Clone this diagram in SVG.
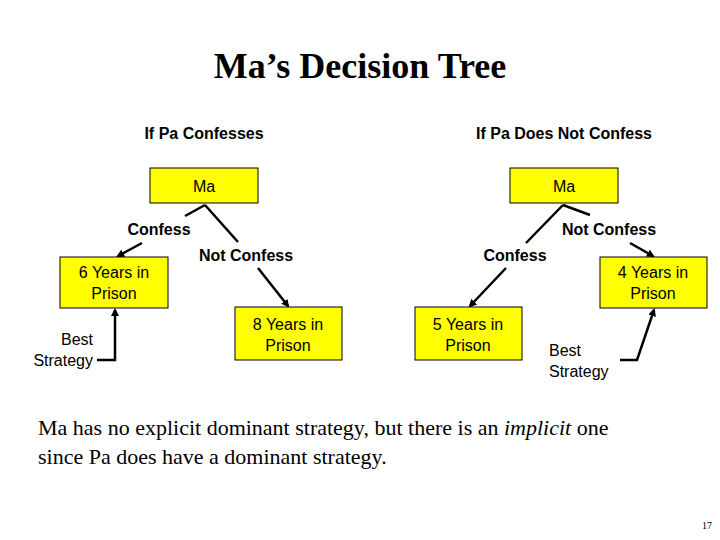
<svg xmlns="http://www.w3.org/2000/svg" width="720" height="540" viewBox="0 0 720 540">
<defs>
<marker id="ah" markerWidth="8" markerHeight="8" refX="6" refY="4" orient="auto" markerUnits="userSpaceOnUse"><path d="M0,0 L8,4 L0,8 z" fill="#000"/></marker>
<style>
.box{fill:#ffff00;stroke:#000;stroke-width:1}
.t{font-family:"Liberation Sans",Arial,sans-serif;font-size:16px;fill:#000;text-anchor:middle}
.b{font-weight:bold}
.ln{stroke:#000;stroke-width:2.5;fill:none}
</style>
</defs>
<rect width="720" height="540" fill="#fff"/>
<text x="360" y="78" text-anchor="middle" font-family="Liberation Serif,Times New Roman,serif" font-weight="bold" font-size="36">Ma’s Decision Tree</text>
<text x="204" y="139" class="t b">If Pa Confesses</text>
<text x="564" y="139" class="t b">If Pa Does Not Confess</text>
<g id="connectors">
<path class="ln" d="M205,205 L185,216"/>
<path class="ln" d="M142,243 L118,256" marker-end="url(#ah)"/>
<path class="ln" d="M205,205 L238,242"/>
<path class="ln" d="M258,268 L288,306" marker-end="url(#ah)"/>
<path class="ln" d="M97,360 L115,360 L115,310" marker-end="url(#ah)"/>
<path class="ln" d="M563,205 L526,243"/>
<path class="ln" d="M506,268 L470,306" marker-end="url(#ah)"/>
<path class="ln" d="M563,205 L590,215"/>
<path class="ln" d="M630,243 L653,256" marker-end="url(#ah)"/>
<path class="ln" d="M620,360 L637,360 L654,310" marker-end="url(#ah)"/>
</g>
<g id="ma-left"><rect class="box" x="150" y="168" width="108" height="35"/><text x="204" y="192" class="t">Ma</text></g>
<g id="ma-right"><rect class="box" x="510" y="168" width="108" height="35"/><text x="564" y="192" class="t">Ma</text></g>
<g id="six"><rect class="box" x="60" y="257" width="108" height="51"/><text x="114" y="278" class="t">6 Years in</text><text x="114" y="299" class="t">Prison</text></g>
<g id="eight"><rect class="box" x="235" y="307" width="107" height="53"/><text x="288" y="330" class="t">8 Years in</text><text x="288" y="351" class="t">Prison</text></g>
<g id="five"><rect class="box" x="415" y="307" width="107" height="53"/><text x="468" y="330" class="t">5 Years in</text><text x="468" y="351" class="t">Prison</text></g>
<g id="four"><rect class="box" x="600" y="257" width="107" height="51"/><text x="653" y="278" class="t">4 Years in</text><text x="653" y="299" class="t">Prison</text></g>
<text x="159" y="235" class="t b">Confess</text>
<text x="246" y="261" class="t b">Not Confess</text>
<text x="515" y="261" class="t b">Confess</text>
<text x="609" y="235" class="t b">Not Confess</text>
<text x="93" y="345" class="t" text-anchor="end" style="text-anchor:end">Best</text>
<text x="93" y="366" class="t" style="text-anchor:end">Strategy</text>
<text x="549" y="356" class="t" style="text-anchor:start">Best</text>
<text x="549" y="377" class="t" style="text-anchor:start">Strategy</text>
<text x="38" y="435" font-family="Liberation Serif,Times New Roman,serif" font-size="22">Ma has no explicit dominant strategy, but there is an <tspan font-style="italic">implicit</tspan> one</text>
<text x="38" y="464" font-family="Liberation Serif,Times New Roman,serif" font-size="22">since Pa does have a dominant strategy.</text>
<text x="712" y="529" font-family="Liberation Serif,Times New Roman,serif" font-size="10" text-anchor="end">17</text>
</svg>
